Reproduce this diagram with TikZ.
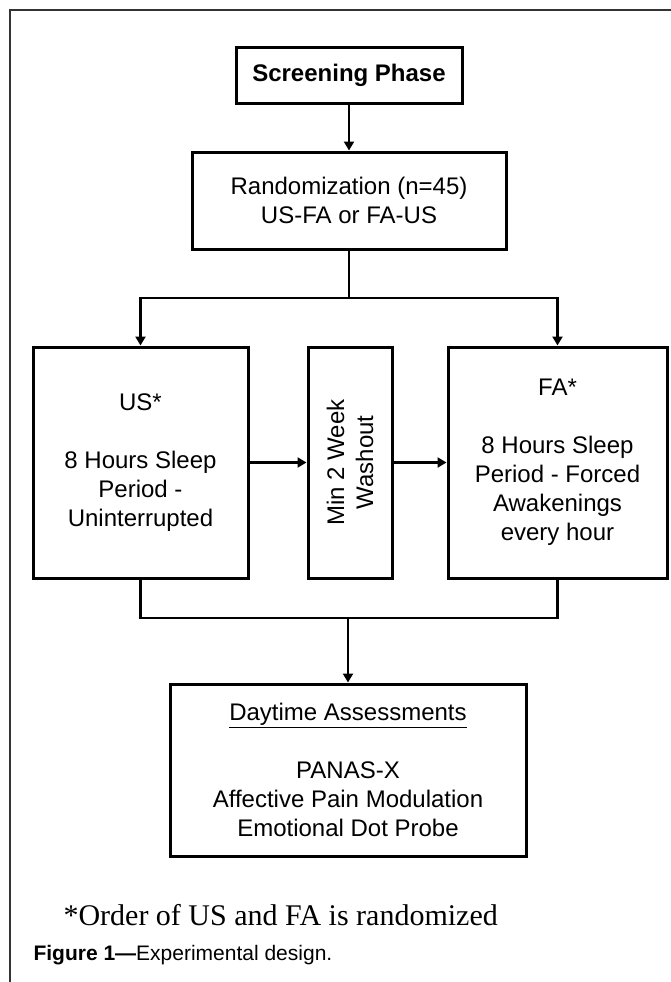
\documentclass[tikz,border=0pt]{standalone}
\usepackage{fontspec}
\setmainfont{Liberation Serif}
\setsansfont{Liberation Sans}
\usetikzlibrary{arrows.meta}

\begin{document}
\begin{tikzpicture}[x=1pt, y=1pt,
	box/.style={draw, line width=3pt, inner sep=0pt, align=center,
		font=\sffamily\fontsize{24}{29}\selectfont},
	arr/.style={line width=2.4pt, -{Triangle[width=10pt,length=9pt]}},
	link/.style={line width=2.4pt}]
	\useasboundingbox (0, 0) rectangle (671, -982);

	% frame
	\draw[line width=1.5pt, color=black!80] (671, -10) -- (10, -10) -- (10, -982);

	\node[box, minimum width=226, minimum height=55] (screen) at (349, -75.5) {\bfseries Screening Phase};
	\node[box, minimum width=314, minimum height=97] (rand) at (349, -200.5) {Randomization (n=45)\\US-FA or FA-US};

	\node[box, minimum width=215, minimum height=231] (us) at (140.5, -462.5) {US*\\[29pt]8 Hours Sleep\\Period -\\Uninterrupted};
	\node[box, minimum width=84, minimum height=231] (wash) at (350, -462.5) {};
	\node[rotate=90, align=center, font=\sffamily\fontsize{24}{29}\selectfont] (washtext) at (wash.center) {Min 2 Week\\Washout};
	\node[box, minimum width=219, minimum height=231] (fa) at (557.5, -462.5) {FA*\\[29pt]8 Hours Sleep\\Period - Forced\\Awakenings\\every hour};

	\node[box, minimum width=356, minimum height=172] (day) at (348, -770) {\underline{Daytime Assessments}\\[29pt]PANAS-X\\Affective Pain Modulation\\Emotional Dot Probe};

	\coordinate (split) at (349, -298);
	\coordinate (merge) at (348, -618);

	\draw[arr] (screen) -- (rand);
	\draw[link] (rand) -- (split);
	\draw[arr] (split) -| (us);
	\draw[arr] (split) -| (fa);
	\draw[arr] (us) -- (wash);
	\draw[arr] (wash) -- (fa);
	\draw[link] (us) |- (merge);
	\draw[link] (fa) |- (merge);
	\draw[arr] (merge) -- (day);

	\node[anchor=base west, font=\fontsize{30}{36}\selectfont] (note) at (60, -925) {*Order of US and FA is randomized};
	\node[anchor=base west, font=\sffamily\fontsize{21}{25}\selectfont] (caption) at (30, -960) {\textbf{Figure 1---}Experimental design.};
\end{tikzpicture}
\end{document}
